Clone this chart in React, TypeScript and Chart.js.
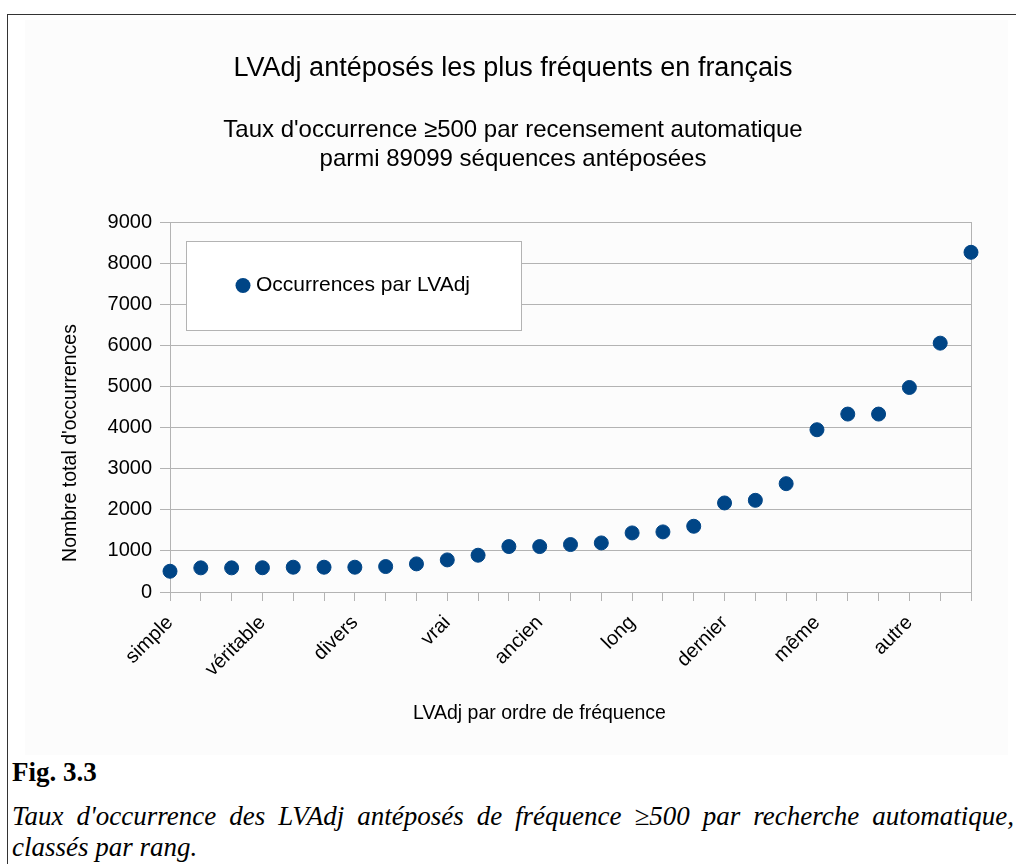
import React, { useEffect, useRef } from 'react';
import { Chart, registerables } from 'chart.js';

Chart.register(...registerables);

// ---- data ----
const categories = [
  'simple', '', '', 'véritable', '', '', 'divers', '', '', 'vrai', '', '',
  'ancien', '', '', 'long', '', '', 'dernier', '', '', 'même', '', '', 'autre', '', '',
];
const occurrences = [
  505, 587, 587, 590, 603, 603, 603, 619, 684, 781, 895, 1105, 1105, 1154,
  1194, 1437, 1462, 1599, 2166, 2230, 2635, 3947, 4328, 4328, 4975, 6053, 8263,
];
const yMin = 0;
const yMax = 9000;
const yStep = 1000;
const seriesLabel = 'Occurrences par LVAdj';
const chartTitle = 'LVAdj antéposés les plus fréquents en français';
const chartSubtitle = [
  "Taux d'occurrence ≥500 par recensement automatique",
  'parmi 89099 séquences antéposées',
];
const xAxisTitle = 'LVAdj par ordre de fréquence';
const yAxisTitle = "Nombre total d'occurrences";
const figLabel = 'Fig. 3.3';
const captionLine1 = "Taux d'occurrence des LVAdj antéposés de fréquence ≥500 par recherche automatique,";
const captionLine2 = 'classés par rang.';

// ---- styles ----
const FONT = "'Liberation Sans', Arial, sans-serif";
const SERIF = "'Liberation Serif', 'Times New Roman', serif";
const SERIES_COLOR = '#004586';
const GRID = '#b3b3b3';
const TEXT = '#000000';

export default function App() {
  const ref = useRef<HTMLCanvasElement>(null);

  useEffect(() => {
    if (!ref.current) return;

    const legendBox = {
      id: 'legendBox',
      beforeDatasetsDraw(chart: any) {
        const { ctx, chartArea } = chart;
        const x = chartArea.left + 16;
        const y = chartArea.top + 19;
        const w = 335;
        const h = 89;
        const ds = chart.data.datasets[0];
        ctx.save();
        ctx.fillStyle = '#ffffff';
        ctx.fillRect(x, y, w, h);
        ctx.strokeStyle = GRID;
        ctx.lineWidth = 1;
        ctx.strokeRect(Math.round(x) + 0.5, Math.round(y) + 0.5, w, h);
        ctx.fillStyle = ds.backgroundColor;
        ctx.beginPath();
        ctx.arc(x + 57, y + h / 2, 7.5, 0, Math.PI * 2);
        ctx.fill();
        ctx.fillStyle = TEXT;
        ctx.font = `21px ${FONT}`;
        ctx.textAlign = 'left';
        ctx.textBaseline = 'middle';
        ctx.fillText(ds.label, x + 70, y + h / 2);
        ctx.restore();
      },
    };

    const axisTitles = {
      id: 'axisTitles',
      afterDraw(chart: any) {
        const { ctx, chartArea } = chart;
        ctx.save();
        ctx.fillStyle = TEXT;
        ctx.font = `19.5px ${FONT}`;
        ctx.textAlign = 'center';
        ctx.textBaseline = 'middle';
        ctx.fillText(xAxisTitle, (chartArea.left + chartArea.right) / 2 - 31, chartArea.bottom + 122);
        ctx.translate(chart.scales.y.left + 16, (chartArea.top + chartArea.bottom) / 2 + 36);
        ctx.rotate(-Math.PI / 2);
        ctx.fillText(yAxisTitle, 0, 0);
        ctx.restore();
      },
    };

    const chart = new Chart(ref.current, {
      type: 'line',
      data: {
        labels: categories,
        datasets: [
          {
            label: seriesLabel,
            data: occurrences,
            showLine: false,
            pointStyle: 'circle',
            pointRadius: 7,
            pointHoverRadius: 7,
            backgroundColor: SERIES_COLOR,
            borderColor: SERIES_COLOR,
            pointBorderWidth: 1,
            clip: false,
          } as any,
        ],
      },
      options: {
        responsive: false,
        animation: false,
        events: [],
        layout: { padding: { left: 38, right: 45, top: 0, bottom: 0 } },
        plugins: {
          legend: { display: false },
          tooltip: { enabled: false },
          title: {
            display: true,
            text: chartTitle,
            color: TEXT,
            font: { family: FONT, size: 27, weight: 'normal', lineHeight: 1.2 },
            padding: { top: 37, bottom: 17 },
          },
          subtitle: {
            display: true,
            text: chartSubtitle,
            color: TEXT,
            font: { family: FONT, size: 24, weight: 'normal', lineHeight: 1.2 },
            padding: { top: 15, bottom: 48 },
          },
        },
        scales: {
          x: {
            type: 'category',
            offset: false,
            border: { color: GRID, width: 1 },
            grid: {
              drawOnChartArea: true,
              color: (c: any) => (c.index === categories.length - 1 ? GRID : 'rgba(0,0,0,0)'),
              tickColor: GRID,
              tickLength: 9,
              lineWidth: 1,
            },
            ticks: {
              autoSkip: false,
              maxRotation: 45,
              minRotation: 45,
              padding: 10,
              color: TEXT,
              font: { family: FONT, size: 20 },
            },
            afterFit: (s: any) => {
              s.height = 163;
            },
          },
          y: {
            min: yMin,
            max: yMax,
            border: { color: GRID, width: 1 },
            grid: { color: GRID, tickColor: GRID, tickLength: 10, lineWidth: 1 },
            ticks: {
              stepSize: yStep,
              padding: 8,
              color: TEXT,
              font: { family: FONT, size: 20 },
              callback: (v: any) => String(v),
            },
            title: { display: false, text: yAxisTitle },
            afterFit: (s: any) => {
              s.width = 115;
            },
          },
        },
      },
      plugins: [legendBox, axisTitles],
    });

    return () => chart.destroy();
  }, []);

  return (
    <div
      style={{
        position: 'fixed',
        left: 0,
        top: 0,
        width: 1016,
        height: 864,
        overflow: 'hidden',
        background: '#ffffff',
      }}
    >
      <div
        style={{
          position: 'absolute',
          left: 7,
          top: 14,
          width: 1009,
          height: 850,
          boxSizing: 'border-box',
          borderTop: '1px solid #333',
          borderLeft: '1px solid #333',
        }}
      />
      <div
        style={{
          position: 'absolute',
          left: 25,
          top: 20,
          width: 983,
          height: 735,
          background: '#fcfcfc',
        }}
      />
      <canvas
        ref={ref}
        width={999}
        height={740}
        style={{ position: 'absolute', left: 17, top: 15, width: 999, height: 740 }}
      />
      <div
        style={{
          position: 'absolute',
          left: 12,
          top: 757,
          fontFamily: SERIF,
          fontWeight: 'bold',
          fontSize: 27,
          lineHeight: '31px',
          color: '#000',
          whiteSpace: 'nowrap',
        }}
      >
        {figLabel}
      </div>
      <div
        style={{
          position: 'absolute',
          left: 12,
          top: 801,
          width: 1002,
          fontFamily: SERIF,
          fontStyle: 'italic',
          fontSize: 27,
          lineHeight: '31px',
          color: '#000',
          textAlign: 'justify',
          textAlignLast: 'justify' as any,
          whiteSpace: 'nowrap',
        }}
      >
        {captionLine1}
      </div>
      <div
        style={{
          position: 'absolute',
          left: 12,
          top: 832,
          fontFamily: SERIF,
          fontStyle: 'italic',
          fontSize: 27,
          lineHeight: '31px',
          color: '#000',
          whiteSpace: 'nowrap',
        }}
      >
        {captionLine2}
      </div>
    </div>
  );
}
